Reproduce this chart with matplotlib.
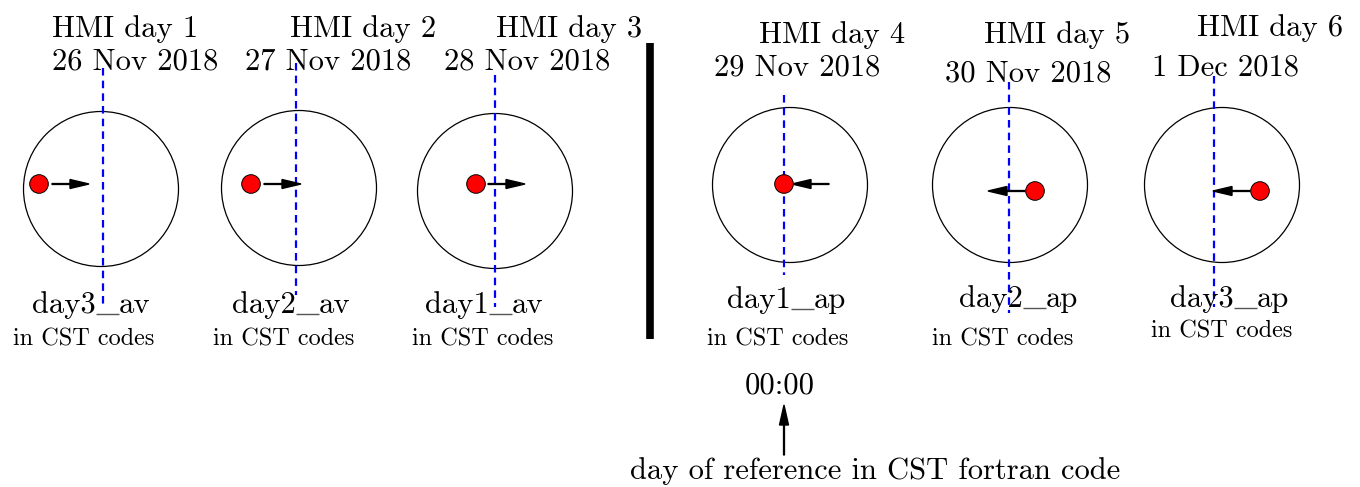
import matplotlib
matplotlib.use("Agg")
import matplotlib.pyplot as plt
from matplotlib.patches import Circle

plt.rcParams['font.family'] = ['cmr10', 'DejaVu Serif']
plt.rcParams['mathtext.fontset'] = 'cm'
plt.rcParams['axes.unicode_minus'] = False

# Diagram content
hmi_days = ["HMI day 1", "HMI day 2", "HMI day 3", "HMI day 4", "HMI day 5", "HMI day 6"]
dates = ["26 Nov 2018", "27 Nov 2018", "28 Nov 2018", "29 Nov 2018", "30 Nov 2018", "1 Dec 2018"]
cst_names = ["day3_av", "day2_av", "day1_av", "day1_ap", "day2_ap", "day3_ap"]
sub_label = "in CST codes"
arrow_dir = [1, 1, 1, -1, -1, -1]   # +1 moves right, -1 moves left
ref_time = "00:00"
ref_text = "day of reference in CST fortran code"

# Layout (pixel coordinates of the 1360x487 canvas)
circle_x = [101, 299, 495, 790, 1010, 1222]
circle_y = [189, 188, 191, 185, 185, 185]
radius = 77.5
line_x = [103, 296, 495, 784, 1009, 1214]
line_top = [68, 63, 75, 95, 82, 76]
line_bot = [308, 295, 307, 275, 313, 307]
dot_x = [39, 251, 476, 784, 1035, 1260]
dot_y = [184, 184, 184, 184, 191, 191]
arr_tail = [52, 264, 488, 829, 1025, 1250]
arr_len = 37
hmi_pos = [(52, 37), (290, 37), (496, 37), (759, 43), (984, 43), (1197, 36)]
date_pos = [(52, 69), (245, 69), (444, 69), (714, 76), (945, 82), (1152, 76)]
name_pos = [(32, 313), (232, 313), (425, 313), (727, 308), (959, 307), (1170, 307)]
sub_pos = [(13, 345), (213, 345), (412, 345), (707, 345), (932, 345), (1151, 338)]

fig = plt.figure(figsize=(13.6, 4.87), dpi=100)
ax = fig.add_axes([0, 0, 1, 1])
ax.set_xlim(0, 1360)
ax.set_ylim(487, 0)
ax.axis('off')
renderer = fig.canvas.get_renderer()

big = 22
small = 17.5


def name_label(x, y, s):
    # "day3_av" with a long thin LaTeX style underscore
    a, b = s.split("_")
    t = ax.text(x, y, a, fontsize=big, ha='left', va='baseline')
    x_end = t.get_window_extent(renderer).x1
    ax.plot([x_end + 0.5, x_end + 23], [y + 1, y + 1], color='#555555', lw=1.0,
            solid_capstyle='butt')
    ax.text(x_end + 23, y, b, fontsize=big, ha='left', va='baseline')


for i in range(6):
    ax.add_patch(Circle((circle_x[i], circle_y[i]), radius, fill=False, lw=0.9, color='black'))
    ax.plot([line_x[i], line_x[i]], [line_top[i], line_bot[i]], color='blue', lw=1.6,
            dashes=(3.4, 2.3), zorder=3)
    ax.arrow(arr_tail[i], dot_y[i], arrow_dir[i] * arr_len, 0, width=0.9, head_width=9,
             head_length=19, length_includes_head=True, color='black', zorder=4)
    ax.add_patch(Circle((dot_x[i], dot_y[i]), 9.3, facecolor='red', edgecolor='black',
                        lw=0.7, zorder=5))
    ax.text(*hmi_pos[i], hmi_days[i], fontsize=big, ha='left', va='baseline')
    ax.text(*date_pos[i], dates[i], fontsize=big, ha='left', va='baseline')
    name_label(*name_pos[i], cst_names[i])
    ax.text(*sub_pos[i], sub_label, fontsize=small, ha='left', va='baseline')

# separator between "av" and "ap" days
ax.plot([649.5, 649.5], [43, 339], color='black', lw=5.5, solid_capstyle='butt')

# reference day marker
ax.text(745, 394, ref_time, fontsize=big, ha='left', va='baseline')
ax.arrow(784, 455, 0, -50, width=0.9, head_width=9, head_length=20,
         length_includes_head=True, color='black')
ax.text(630, 479, ref_text, fontsize=big, ha='left', va='baseline')

fig.savefig("out.png", dpi=100)
